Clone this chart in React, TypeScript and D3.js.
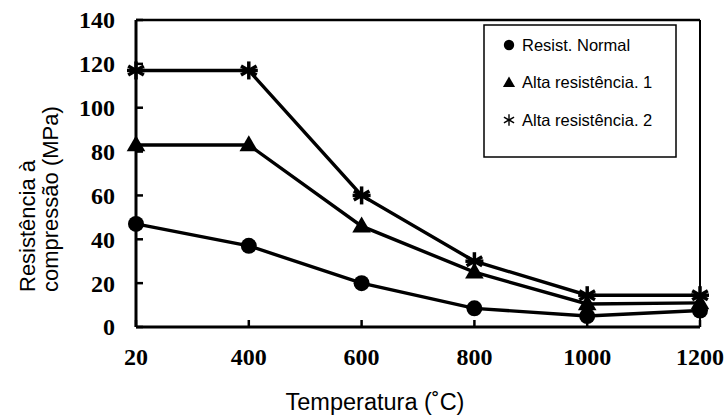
import React from 'react';
import * as d3 from 'd3';

const temperatures = ['20', '400', '600', '800', '1000', '1200'];
const normal = [47, 37, 20, 8.5, 5, 7.5];
const alta1 = [83, 83, 46, 25, 10.5, 11];
const alta2 = [117, 117, 60, 30, 14.5, 14.5];
const yTicks = [0, 20, 40, 60, 80, 100, 120, 140];
const legendLabels = ['Resist. Normal', 'Alta resistência. 1', 'Alta resistência. 2'];

const W = 727;
const H = 419;
const margin = { top: 20, right: 27, bottom: 92, left: 136 };

const App = () => {
  const width = W - margin.left - margin.right;
  const height = H - margin.top - margin.bottom;

  const xScale = d3.scalePoint<string>().domain(temperatures).range([0, width]);
  const yScale = d3.scaleLinear().domain([0, 140]).range([height, 0]);

  const line = d3.line<number>()
    .x((d, i) => xScale(temperatures[i]) as number)
    .y(d => yScale(d));

  const series = [
    { values: normal, marker: 'circle' },
    { values: alta1, marker: 'triangle' },
    { values: alta2, marker: 'star' },
  ];

  const triPath = d3.symbol().type(d3.symbolTriangle).size(150)() as string;

  // legend markers are drawn smaller and thinner (s < 1)
  const drawMarker = (kind: string, x: number, y: number, key: string, s = 1) => {
    if (kind === 'circle') return <circle key={key} cx={x} cy={y} r={8 * s} fill="#000" />;
    if (kind === 'triangle') return <path key={key} d={triPath} transform={`translate(${x},${y + 1}) scale(${s})`} fill="#000" />;
    const r = 9 * s;
    return (
      <g key={key} stroke="#000" strokeWidth={s < 1 ? 1.4 : 3.5}>
        {[0, 60, 120].map(a => {
          const rad = (a * Math.PI) / 180;
          return (
            <line key={a} x1={x - r * Math.sin(rad)} y1={y - r * Math.cos(rad)} x2={x + r * Math.sin(rad)} y2={y + r * Math.cos(rad)} />
          );
        })}
        {s >= 1 && <line x1={x - r} y1={y} x2={x + r} y2={y} />}
      </g>
    );
  };

  return (
    <svg width={W} height={H} style={{ position: 'absolute', left: 0, top: 0 }}>
      <rect width={W} height={H} fill="#fff" />
      <g transform={`translate(${margin.left},${margin.top})`}>
        {/* frame */}
        <line x1={0} y1={0} x2={width} y2={0} stroke="#000" strokeWidth={2.5} />
        <line x1={width} y1={0} x2={width} y2={height} stroke="#000" strokeWidth={2} />
        <line x1={0} y1={0} x2={0} y2={height} stroke="#000" strokeWidth={3} />
        <line x1={0} y1={height} x2={width} y2={height} stroke="#000" strokeWidth={3} />

        {/* y ticks */}
        {yTicks.map(t => (
          <g key={t} transform={`translate(0,${yScale(t)})`}>
            <line x1={0} x2={7} stroke="#000" strokeWidth={2.5} />
            <text x={-21} dy="0.35em" textAnchor="end" fontFamily="'Liberation Serif', serif" fontWeight="bold" fontSize={24}>{t}</text>
          </g>
        ))}

        {/* x ticks */}
        {temperatures.map(t => (
          <g key={t} transform={`translate(${xScale(t)},${height})`}>
            <line y1={0} y2={-7} stroke="#000" strokeWidth={2.5} />
            <text y={38} textAnchor="middle" fontFamily="'Liberation Serif', serif" fontWeight="bold" fontSize={24}>{t}</text>
          </g>
        ))}

        {series.map((s, si) => (
          <g key={si}>
            <path d={line(s.values) as string} fill="none" stroke="#000" strokeWidth={3.4} />
            {s.values.map((v, i) => drawMarker(s.marker, xScale(temperatures[i]) as number, yScale(v), `${si}-${i}`))}
          </g>
        ))}
      </g>

      {/* legend */}
      <g transform="translate(484,25)">
        <rect width={192} height={132} fill="#fff" stroke="#000" strokeWidth={1.5} />
        {legendLabels.map((l, i) => (
          <g key={l} transform={`translate(0,${20 + i * 37.5})`}>
            {drawMarker(series[i].marker, 25, 0, `lg${i}`, 0.65)}
            <text x={38} dy="0.35em" fontFamily="'Liberation Sans', Arial, sans-serif" fontSize={16.5}>{l}</text>
          </g>
        ))}
      </g>

      {/* axis titles */}
      <text x={375} y={410} textAnchor="middle" fontFamily="'Liberation Sans', Arial, sans-serif" fontSize={23.5}>Temperatura (˚C)</text>
      <text transform="translate(35,292) rotate(-90)" fontFamily="'Liberation Sans', Arial, sans-serif" fontSize={22}>
        <tspan x={0} y={0}>Resistência à</tspan>
        <tspan x={0} y={23}>compressão (MPa)</tspan>
      </text>
    </svg>
  );
};

export default App;
